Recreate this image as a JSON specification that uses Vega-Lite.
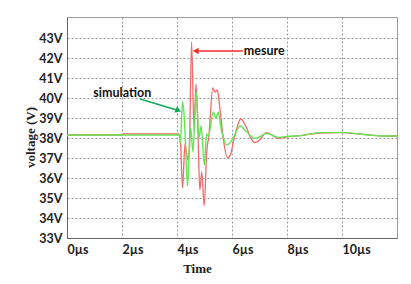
{
  "$schema": "https://vega.github.io/schema/vega-lite/v6.json",
  "width": 330,
  "height": 221,
  "autosize": "none",
  "padding": {"left": 67, "top": 17, "right": 14, "bottom": 46},
  "background": "white",
  "config": {
    "view": {"stroke": "#9a9a9a", "strokeWidth": 1},
    "axis": {
      "labelFont": "Lato", "labelFontWeight": "bold", "labelFontSize": 12.5, "labelColor": "#222",
      "labelOverlap": false, "labelFlush": false,
      "titleFont": "Liberation Serif", "titleFontWeight": "bold", "titleFontSize": 13, "titleColor": "#222",
      "grid": true, "gridDash": [2, 2], "gridColor": "#9a9a9a", "gridWidth": 1,
      "ticks": false, "domainColor": "#666", "labelPadding": 5
    },
    "axisX": {"labelAlign": "left", "titleX": 130, "titleY": 34, "titleBaseline": "alphabetic"},
    "axisY": {"titleX": -37, "titleY": 120, "titleBaseline": "middle", "titleAngle": -90}
  },
  "datasets": {
    "series": [
      {"s": "mesure", "t": 0, "v": 38.15}, {"s": "mesure", "t": 2, "v": 38.15}, {"s": "mesure", "t": 2.02, "v": 38.2},
      {"s": "mesure", "t": 4.05, "v": 38.2}, {"s": "mesure", "t": 4.12, "v": 38.0}, {"s": "mesure", "t": 4.2, "v": 35.5},
      {"s": "mesure", "t": 4.29, "v": 37.7}, {"s": "mesure", "t": 4.4, "v": 36.9}, {"s": "mesure", "t": 4.45, "v": 37.5},
      {"s": "mesure", "t": 4.53, "v": 42.8}, {"s": "mesure", "t": 4.62, "v": 38.4}, {"s": "mesure", "t": 4.69, "v": 40.7},
      {"s": "mesure", "t": 4.76, "v": 38.5}, {"s": "mesure", "t": 4.83, "v": 35.4}, {"s": "mesure", "t": 4.9, "v": 36.3},
      {"s": "mesure", "t": 4.99, "v": 34.6}, {"s": "mesure", "t": 5.08, "v": 37.3}, {"s": "mesure", "t": 5.16, "v": 38.1},
      {"s": "mesure", "t": 5.3, "v": 40.5}, {"s": "mesure", "t": 5.38, "v": 40.3}, {"s": "mesure", "t": 5.47, "v": 40.4},
      {"s": "mesure", "t": 5.55, "v": 39.6}, {"s": "mesure", "t": 5.7, "v": 37.8}, {"s": "mesure", "t": 5.84, "v": 37.0},
      {"s": "mesure", "t": 5.95, "v": 37.2}, {"s": "mesure", "t": 6.1, "v": 38.1}, {"s": "mesure", "t": 6.32, "v": 38.95},
      {"s": "mesure", "t": 6.5, "v": 38.6}, {"s": "mesure", "t": 6.7, "v": 37.95}, {"s": "mesure", "t": 6.85, "v": 37.77},
      {"s": "mesure", "t": 7.0, "v": 37.9}, {"s": "mesure", "t": 7.25, "v": 38.27}, {"s": "mesure", "t": 7.45, "v": 38.15},
      {"s": "mesure", "t": 7.7, "v": 37.98}, {"s": "mesure", "t": 7.95, "v": 38.05}, {"s": "mesure", "t": 8.5, "v": 38.12},
      {"s": "mesure", "t": 9.2, "v": 38.25}, {"s": "mesure", "t": 10.0, "v": 38.27}, {"s": "mesure", "t": 10.5, "v": 38.22},
      {"s": "mesure", "t": 11.0, "v": 38.15}, {"s": "mesure", "t": 11.5, "v": 38.1}, {"s": "mesure", "t": 12, "v": 38.1},
      {"s": "simulation", "t": 0, "v": 38.15}, {"s": "simulation", "t": 4.08, "v": 38.15}, {"s": "simulation", "t": 4.12, "v": 37.75},
      {"s": "simulation", "t": 4.2, "v": 39.8}, {"s": "simulation", "t": 4.25, "v": 39.3}, {"s": "simulation", "t": 4.3, "v": 38.0},
      {"s": "simulation", "t": 4.38, "v": 35.6}, {"s": "simulation", "t": 4.45, "v": 37.5}, {"s": "simulation", "t": 4.5, "v": 38.5},
      {"s": "simulation", "t": 4.58, "v": 37.3}, {"s": "simulation", "t": 4.7, "v": 40.3}, {"s": "simulation", "t": 4.8, "v": 38.0},
      {"s": "simulation", "t": 4.88, "v": 38.6}, {"s": "simulation", "t": 4.99, "v": 36.65}, {"s": "simulation", "t": 5.08, "v": 38.2},
      {"s": "simulation", "t": 5.14, "v": 38.1}, {"s": "simulation", "t": 5.32, "v": 39.3}, {"s": "simulation", "t": 5.42, "v": 39.0},
      {"s": "simulation", "t": 5.5, "v": 39.3}, {"s": "simulation", "t": 5.6, "v": 38.5}, {"s": "simulation", "t": 5.82, "v": 37.65},
      {"s": "simulation", "t": 6.0, "v": 37.9}, {"s": "simulation", "t": 6.3, "v": 38.6}, {"s": "simulation", "t": 6.5, "v": 38.35},
      {"s": "simulation", "t": 6.83, "v": 37.98}, {"s": "simulation", "t": 7.0, "v": 38.05}, {"s": "simulation", "t": 7.25, "v": 38.23},
      {"s": "simulation", "t": 7.45, "v": 38.15}, {"s": "simulation", "t": 7.7, "v": 38.03}, {"s": "simulation", "t": 8.0, "v": 38.08},
      {"s": "simulation", "t": 8.5, "v": 38.12}, {"s": "simulation", "t": 9.2, "v": 38.27}, {"s": "simulation", "t": 10.0, "v": 38.28},
      {"s": "simulation", "t": 10.5, "v": 38.22}, {"s": "simulation", "t": 11.0, "v": 38.15}, {"s": "simulation", "t": 11.5, "v": 38.1},
      {"s": "simulation", "t": 12, "v": 38.1}
    ],
    "notes": [
      {"label": "mesure", "tx": 6.43, "ty": 42.35, "x1": 6.39, "y1": 42.35, "x2": 4.68, "y2": 42.35, "col": "#ff2a2a"},
      {"label": "simulation", "tx": 2.01, "ty": 40.27, "x1": 2.66, "y1": 39.95, "x2": 4.05, "y2": 39.38, "col": "#14a85a"}
    ]
  },
  "layer": [
    {
      "data": {"name": "series"},
      "transform": [{"filter": "datum.s === 'mesure'"}],
      "mark": {"type": "line", "color": "#f26a6a", "strokeWidth": 1.3, "interpolate": "monotone"},
      "encoding": {
        "x": {"field": "t", "type": "quantitative", "scale": {"domain": [0, 12], "nice": false},
          "axis": {"values": [0, 2, 4, 6, 8, 10], "labelExpr": "datum.value + 'µs'", "title": "Time"}},
        "y": {"field": "v", "type": "quantitative", "scale": {"domain": [33, 44.05], "nice": false, "zero": false},
          "axis": {"values": [33, 34, 35, 36, 37, 38, 39, 40, 41, 42, 43], "labelExpr": "datum.value + 'V'", "title": "voltage (V)"}}
      }
    },
    {
      "data": {"name": "series"},
      "transform": [{"filter": "datum.s === 'simulation'"}],
      "mark": {"type": "line", "color": "#62e552", "strokeWidth": 1.4, "interpolate": "monotone"},
      "encoding": {
        "x": {"field": "t", "type": "quantitative",
          "axis": {"values": [0, 2, 4, 6, 8, 10], "labelExpr": "datum.value + 'µs'", "title": "Time"}},
        "y": {"field": "v", "type": "quantitative",
          "axis": {"values": [33, 34, 35, 36, 37, 38, 39, 40, 41, 42, 43], "labelExpr": "datum.value + 'V'", "title": "voltage (V)"}}
      }
    },
    {
      "data": {"name": "notes"},
      "mark": {"type": "rule", "strokeWidth": 1.6},
      "encoding": {
        "x": {"field": "x1", "type": "quantitative",
          "axis": {"values": [0, 2, 4, 6, 8, 10], "labelExpr": "datum.value + 'µs'", "title": "Time"}},
        "y": {"field": "y1", "type": "quantitative",
          "axis": {"values": [33, 34, 35, 36, 37, 38, 39, 40, 41, 42, 43], "labelExpr": "datum.value + 'V'", "title": "voltage (V)"}},
        "x2": {"field": "x2"},
        "y2": {"field": "y2"},
        "color": {"field": "col", "type": "nominal", "scale": null}
      }
    },
    {
      "data": {"name": "notes"},
      "transform": [{"filter": "datum.label === 'mesure'"}],
      "mark": {"type": "point", "shape": "triangle-left", "filled": true, "size": 45, "opacity": 1, "color": "#ff2a2a"},
      "encoding": {
        "x": {"field": "x2", "type": "quantitative",
          "axis": {"values": [0, 2, 4, 6, 8, 10], "labelExpr": "datum.value + 'µs'", "title": "Time"}},
        "y": {"field": "y2", "type": "quantitative",
          "axis": {"values": [33, 34, 35, 36, 37, 38, 39, 40, 41, 42, 43], "labelExpr": "datum.value + 'V'", "title": "voltage (V)"}}
      }
    },
    {
      "data": {"name": "notes"},
      "transform": [{"filter": "datum.label === 'simulation'"}],
      "mark": {"type": "point", "shape": "triangle-right", "filled": true, "size": 45, "opacity": 1, "angle": 22, "color": "#14a85a"},
      "encoding": {
        "x": {"field": "x2", "type": "quantitative",
          "axis": {"values": [0, 2, 4, 6, 8, 10], "labelExpr": "datum.value + 'µs'", "title": "Time"}},
        "y": {"field": "y2", "type": "quantitative",
          "axis": {"values": [33, 34, 35, 36, 37, 38, 39, 40, 41, 42, 43], "labelExpr": "datum.value + 'V'", "title": "voltage (V)"}}
      }
    },
    {
      "data": {"name": "notes"},
      "transform": [{"filter": "datum.label === 'mesure'"}],
      "mark": {"type": "text", "font": "Lato", "fontWeight": "bold", "fontSize": 12.5, "color": "#111", "baseline": "middle", "align": "left"},
      "encoding": {
        "x": {"field": "tx", "type": "quantitative",
          "axis": {"values": [0, 2, 4, 6, 8, 10], "labelExpr": "datum.value + 'µs'", "title": "Time"}},
        "y": {"field": "ty", "type": "quantitative",
          "axis": {"values": [33, 34, 35, 36, 37, 38, 39, 40, 41, 42, 43], "labelExpr": "datum.value + 'V'", "title": "voltage (V)"}},
        "text": {"field": "label"}
      }
    },
    {
      "data": {"name": "notes"},
      "transform": [{"filter": "datum.label === 'simulation'"}],
      "mark": {"type": "text", "font": "Lato", "fontWeight": "bold", "fontSize": 12.5, "color": "#111", "baseline": "middle", "align": "center"},
      "encoding": {
        "x": {"field": "tx", "type": "quantitative",
          "axis": {"values": [0, 2, 4, 6, 8, 10], "labelExpr": "datum.value + 'µs'", "title": "Time"}},
        "y": {"field": "ty", "type": "quantitative",
          "axis": {"values": [33, 34, 35, 36, 37, 38, 39, 40, 41, 42, 43], "labelExpr": "datum.value + 'V'", "title": "voltage (V)"}},
        "text": {"field": "label"}
      }
    }
  ]
}
